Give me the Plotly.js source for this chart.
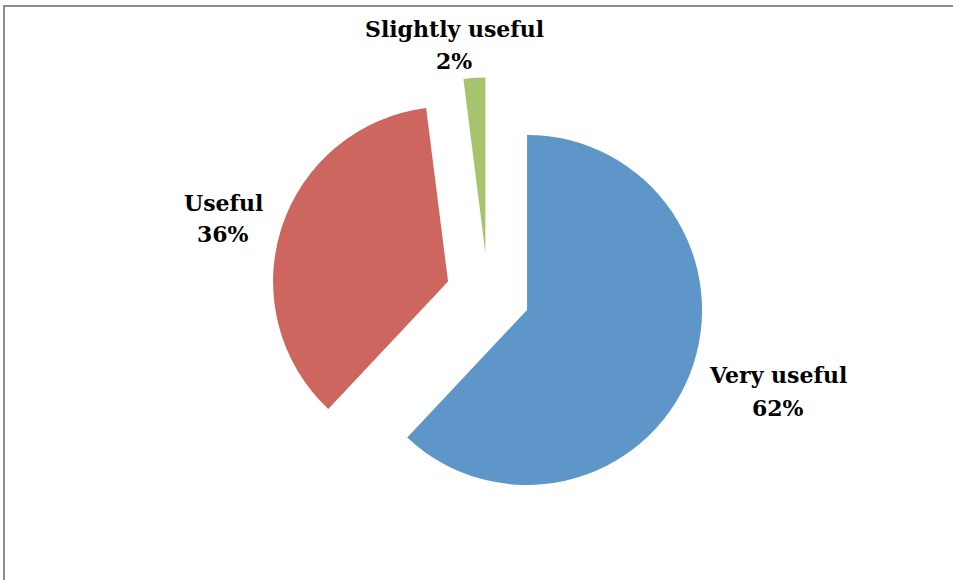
<!DOCTYPE html>
<html>
<head>
<meta charset="utf-8">
<script src="https://cdn.plot.ly/plotly-3.0.1.min.js"></script>
<style>html,body{margin:0;padding:0;background:#fff;}#chart{width:953px;height:580px;}</style>
</head>
<body>
<div id="chart"></div>
<script>
var categories = ["Very useful", "Useful", "Slightly useful"];
var values = [62, 36, 2];
var colors = ["#5F96C9", "#CD665F", "#A6C46B"];

// label positions (pixels) for name and percent lines
var nameX = [778, 223, 454];
var nameY = [375, 203, 29];
var pctY = [408, 234, 61];

var W = 953, H = 580;
var total = values.reduce(function(a, b){ return a + b; }, 0);
var font = {family: "DejaVu Serif, serif", size: 22, color: "#000000"};

var annotations = [];
for (var i = 0; i < categories.length; i++) {
  annotations.push({
    xref: "paper", yref: "paper", x: nameX[i] / W, y: 1 - nameY[i] / H,
    text: "<b>" + categories[i] + "</b>", showarrow: false,
    xanchor: "center", yanchor: "middle", font: font
  });
  annotations.push({
    xref: "paper", yref: "paper", x: nameX[i] / W, y: 1 - pctY[i] / H,
    text: "<b>" + Math.round(values[i] / total * 100) + "%</b>", showarrow: false,
    xanchor: "center", yanchor: "middle", font: font
  });
}

var cx = 488 / W, cy = 1 - 294.5 / H, half = 217 / H;
var trace = {
  type: "pie",
  labels: categories,
  values: values,
  sort: false,
  direction: "clockwise",
  rotation: 0,
  pull: [0.24, 0.24, 0.24],
  marker: {colors: colors, line: {width: 0}},
  textinfo: "none",
  hoverinfo: "label+percent",
  showlegend: false,
  domain: {x: [cx - 0.3, cx + 0.3], y: [cy - half, cy + half]}
};

var layout = {
  width: W, height: H,
  margin: {l: 0, r: 0, t: 0, b: 0},
  paper_bgcolor: "#ffffff",
  showlegend: false,
  annotations: annotations,
  shapes: [{
    type: "rect", xref: "paper", yref: "paper",
    x0: 4 / W, x1: 1.1, y0: -0.1, y1: 1 - 6 / H,
    line: {color: "#8c8c8c", width: 2}, fillcolor: "rgba(0,0,0,0)"
  }]
};

Plotly.newPlot("chart", [trace], layout, {displayModeBar: false, staticPlot: true});
</script>
</body>
</html>
